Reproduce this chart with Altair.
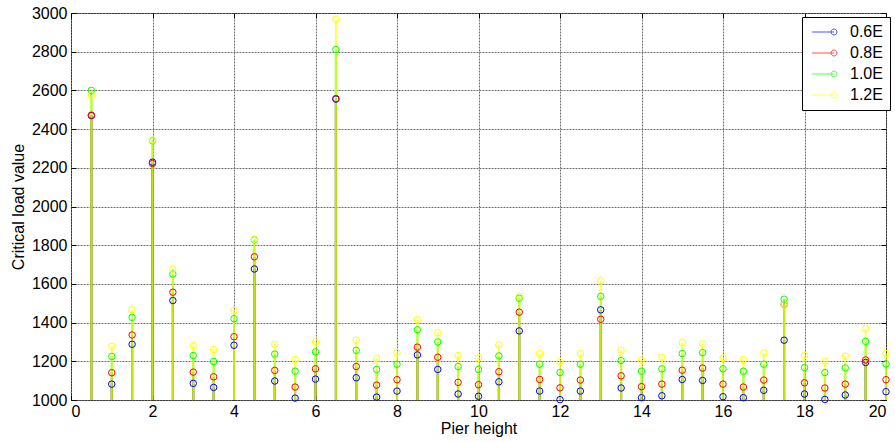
import altair as alt
import pandas as pd

series = ["0.6E", "0.8E", "1.0E", "1.2E"]
colors = ["#0000ff", "#ff0000", "#00ff00", "#ffff00"]

pier_height = [0.5, 1.0, 1.5, 2.0, 2.5, 3.0, 3.5, 4.0, 4.5, 5.0,
               5.5, 6.0, 6.5, 7.0, 7.5, 8.0, 8.5, 9.0, 9.5, 10.0,
               10.5, 11.0, 11.5, 12.0, 12.5, 13.0, 13.5, 14.0, 14.5, 15.0,
               15.5, 16.0, 16.5, 17.0, 17.5, 18.0, 18.5, 19.0, 19.5, 20.0]

load_06E = [2470, 1082, 1288, 2229, 1514, 1086, 1065, 1283, 1677, 1098,
            1010, 1108, 2555, 1115, 1015, 1046, 1233, 1158, 1031, 1019,
            1094, 1357, 1046, 1002, 1046, 1466, 1062, 1012, 1022, 1106,
            1101, 1017, 1012, 1050, 1309, 1031, 1003, 1026, 1194, 1043]
load_08E = [2472, 1141, 1336, 2222, 1557, 1144, 1120, 1327, 1740, 1153,
            1067, 1161, 2558, 1173, 1077, 1105, 1273, 1221, 1091, 1079,
            1146, 1454, 1106, 1063, 1103, 1417, 1125, 1069, 1082, 1154,
            1165, 1082, 1067, 1103, 1494, 1089, 1062, 1082, 1207, 1105]
load_10E = [2600, 1225, 1427, 2340, 1651, 1230, 1199, 1420, 1828, 1237,
            1149, 1249, 2811, 1257, 1158, 1185, 1363, 1300, 1173, 1158,
            1228, 1526, 1185, 1142, 1185, 1536, 1204, 1149, 1161, 1240,
            1245, 1161, 1149, 1185, 1521, 1168, 1142, 1166, 1303, 1187]
load_12E = [2575, 1278, 1466, 2343, 1677, 1281, 1261, 1463, 1831, 1288,
            1209, 1300, 2968, 1309, 1214, 1245, 1415, 1348, 1230, 1218,
            1285, 1536, 1240, 1199, 1240, 1617, 1257, 1207, 1221, 1297,
            1291, 1218, 1209, 1243, 1494, 1230, 1201, 1226, 1369, 1240]

x_ticks = [0, 2, 4, 6, 8, 10, 12, 14, 16, 18, 20]
y_ticks = [1000, 1200, 1400, 1600, 1800, 2000, 2200, 2400, 2600, 2800, 3000]

rows = []
for name, vals in zip(series, [load_06E, load_08E, load_10E, load_12E]):
    for xv, yv in zip(pier_height, vals):
        rows.append({"x": xv, "v": yv, "s": name})
df = pd.DataFrame(rows)

FONT = "Liberation Sans"
xscale = alt.Scale(domain=[0, 20], nice=False, zero=False)
yscale = alt.Scale(domain=[1000, 3000], nice=False, zero=False)
cscale = alt.Scale(domain=series, range=colors)

legend = alt.Legend(
    title=None, orient="none", legendX=731, legendY=4,
    symbolType="M-4.4,0L0,0M0.6,0A0.6,0.6,0,1,1,-0.6,0A0.6,0.6,0,1,1,0.6,0",
    symbolSize=100, symbolStrokeWidth=1, symbolFillColor="transparent",
    symbolOffset=17, labelOffset=8, labelFont=FONT, labelFontSize=16,
    labelColor="#000000", padding=7, rowPadding=5,
    fillColor="#ffffff", strokeColor="#000000", cornerRadius=0,
)

x_axis = alt.Axis(values=x_ticks, title="Pier height", orient="bottom", offset=-5,
                  tickSize=5, domain=False, grid=True, labelPadding=3,
                  titlePadding=1, format="d")
y_axis = alt.Axis(values=y_ticks, title="Critical load value", orient="left", offset=-5,
                  tickSize=5, domain=False, grid=True, labelPadding=4,
                  titlePadding=5, format="d")

base = alt.Chart(df)

stems = base.mark_rule(strokeWidth=2, opacity=0.68).encode(
    x=alt.X("x:Q", scale=xscale, axis=x_axis),
    y=alt.Y("v:Q", scale=yscale, axis=y_axis),
    y2=alt.datum(1000),
    color=alt.Color("s:N", scale=cscale, legend=legend, sort=series),
)

markers = base.mark_point(shape="circle", filled=False, size=42, strokeWidth=1,
                          opacity=1, clip=False).encode(
    x=alt.X("x:Q", scale=xscale, axis=None),
    y=alt.Y("v:Q", scale=yscale, axis=None),
    color=alt.Color("s:N", scale=cscale, legend=legend, sort=series),
)

frame = base.mark_point(opacity=0).encode(
    x=alt.X("x:Q", scale=xscale,
            axis=alt.Axis(values=x_ticks, orient="top", labels=False, title=None,
                          grid=False, domain=False, offset=-5, tickSize=5)),
    y=alt.Y("v:Q", scale=yscale,
            axis=alt.Axis(values=y_ticks, orient="right", labels=False, title=None,
                          grid=False, domain=False, offset=-5, tickSize=5)),
)

chart = alt.layer(stems, markers, frame).resolve_axis(
    x="independent", y="independent"
).properties(
    width=815, height=387,
    padding={"left": 71, "top": 13, "right": 9, "bottom": 42},
    autosize=alt.AutoSizeParams(type="none"),
    background="#ffffff",
).configure_view(
    stroke="#000000", strokeWidth=1
).configure_axis(
    labelFont=FONT, labelFontSize=16, labelColor="#000000",
    titleFont=FONT, titleFontSize=16, titleFontWeight="normal", titleColor="#000000",
    tickColor="#000000", tickWidth=1,
    gridColor="#707070", gridDash=[2, 1], gridOpacity=1, gridWidth=1,
)

chart.save("out.html", embed_options={"renderer": "svg", "actions": False})
